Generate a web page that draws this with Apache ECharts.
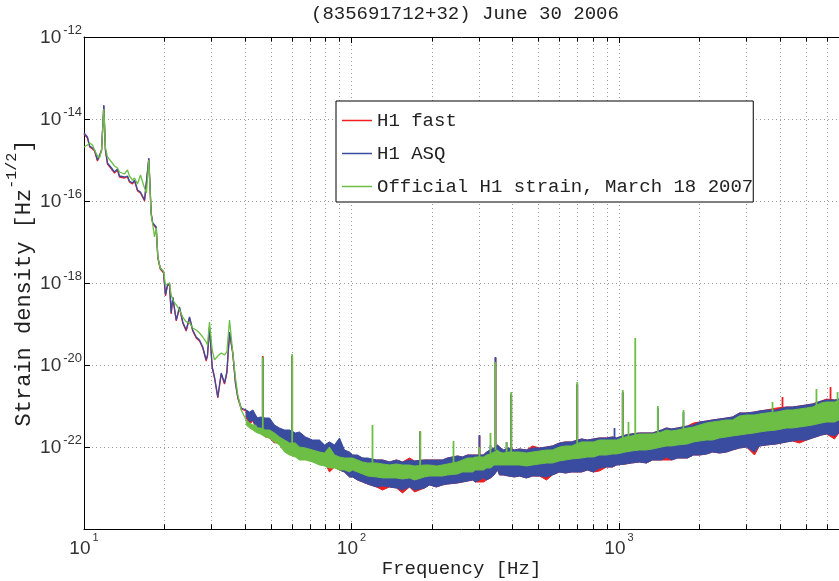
<!DOCTYPE html>
<html><head><meta charset="utf-8">
<script src="https://cdn.jsdelivr.net/npm/echarts@6/dist/echarts.min.js"></script>
<style>html,body{margin:0;padding:0;background:#fff}#c{width:839px;height:581px}</style>
</head><body><div id="c"></div>
<script>
// ---- names ----
const seriesNames = ['H1 fast', 'H1 ASQ', 'Official H1 strain, March 18 2007'];

// ---- low-frequency part (Hz) and strain values ----
const lowF = [10.0,10.3,10.5,10.76,10.95,11.23,11.43,11.63,11.86,12.03,
 12.24,12.67,13.0,13.34,13.57,14.17,14.54,14.79,15.18,15.45,
 15.85,16.26,16.84,17.13,17.47,17.83,18.08,18.35,18.62,18.88,
 19.27,19.83,20.17,20.51,20.87,21.18,21.48,22.12,22.75,23.4,
 24.1,24.8,25.5,26.27,27.03,27.8,28.62,28.95,29.45,30.15,
 30.75,31.64,32.58,33.52,34.2,35.0,36.0,36.85,37.58,38.7,
 40.4];
const redLow = [4.31e-15,3.44e-15,2.08e-15,1.86e-15,1.66e-15,9.45e-16,1.25e-15,1.66e-15,2.08e-14,1.66e-15,
 7.99e-16,6.03e-16,4.82e-16,5.70e-16,3.85e-16,3.64e-16,3.85e-16,2.91e-16,2.60e-16,3.08e-16,
 1.76e-16,1.57e-16,1.0e-16,1.06e-16,1.06e-15,4.82e-17,2.75e-17,2.46e-17,2.20e-17,4.07e-18,
 2.20e-18,1.76e-18,4.82e-19,8.45e-19,9.45e-19,1.76e-19,4.31e-19,1.19e-19,2.46e-19,1.06e-19,
 6.75e-20,1.40e-19,6.75e-20,4.56e-20,3.85e-20,2.60e-20,1.25e-20,1.66e-20,7.99e-20,8.45e-21,
 4.82e-21,1.57e-21,6.03e-21,3.44e-21,6.38e-21,6.03e-20,1.86e-20,3.44e-21,1.57e-21,8.45e-22,
 7.55e-22];
const blueLow = [4.56e-15,3.64e-15,2.20e-15,1.96e-15,1.76e-15,1.0e-15,1.33e-15,1.76e-15,2.20e-14,1.76e-15,
 8.45e-16,6.38e-16,5.10e-16,6.03e-16,4.07e-16,3.85e-16,4.07e-16,3.08e-16,2.75e-16,3.25e-16,
 1.86e-16,1.66e-16,1.06e-16,1.12e-16,1.12e-15,5.10e-17,2.91e-17,2.60e-17,2.32e-17,4.31e-18,
 2.32e-18,1.86e-18,5.10e-19,8.94e-19,1.0e-18,1.86e-19,4.56e-19,1.25e-19,2.60e-19,1.12e-19,
 7.14e-20,1.48e-19,7.14e-20,4.82e-20,4.07e-20,2.75e-20,1.33e-20,1.76e-20,8.45e-20,8.94e-21,
 5.10e-21,1.66e-21,6.38e-21,3.64e-21,6.75e-21,6.38e-20,1.96e-20,3.64e-21,1.66e-21,8.94e-22,
 7.99e-22];
const greenLow = [2.08e-15,2.32e-15,2.60e-15,2.32e-15,1.76e-15,1.25e-15,1.12e-15,1.76e-15,1.76e-14,1.96e-15,
 1.19e-15,8.94e-16,7.14e-16,6.38e-16,5.10e-16,4.56e-16,5.70e-16,4.07e-16,3.25e-16,3.64e-16,
 2.60e-16,4.31e-16,2.08e-16,1.57e-16,1.0e-15,4.56e-17,2.60e-17,1.33e-17,2.20e-17,4.31e-18,
 2.32e-18,1.96e-18,8.94e-19,1.0e-18,1.0e-18,5.10e-19,3.85e-19,2.91e-19,2.20e-19,1.48e-19,
 1.12e-19,1.06e-19,7.99e-20,7.14e-20,6.03e-20,4.82e-20,3.64e-20,3.08e-20,1.12e-19,2.32e-20,
 1.33e-20,1.66e-20,1.96e-20,1.76e-20,2.08e-20,1.25e-19,1.96e-20,4.82e-21,1.86e-21,7.99e-22,
 4.56e-22];

// ---- noise band above 40 Hz: frequencies and upper / lower envelope of each trace ----
const bandF = [40.4,41.6,42.8,43.8,44.6,45.6,47.7,49.4,51.5,53.8,
 56.2,58.7,61.7,63.9,67.3,71.5,75.9,79.3,82.7,86.4,
 90.2,94.1,98.3,100.9,105.3,110,114.8,124,130.6,138.7,
 147.3,155.1,164.8,172,187.5,195.7,207.8,218.9,228.5,249,
 260,271.4,283.4,290.8,311.6,319.7,330.8,341,351.5,357.5,
 370,386.3,406.8,424.6,451,475,504.5,535.8,564,599,
 631,664,724,762,803,845,898,946,979,1058,
 1114,1193,1267,1334,1442,1505,1572,1655,1803,1899,
 2000,2124,2236,2376,2523,2657,2821,2997,3210,3350,
 3559,3880,4229,4453,4729,5022,5289,5715,5967,6391,
 6640];
const redHi = [7.55e-22,6.75e-22,7.55e-22,5.70e-22,4.82e-22,5.10e-22,4.82e-22,4.56e-22,3.25e-22,2.75e-22,
 2.46e-22,2.32e-22,2.08e-22,2.08e-22,1.66e-22,1.40e-22,1.40e-22,1.06e-22,1.25e-22,1.06e-22,
 1.48e-22,7.99e-23,7.14e-23,6.38e-23,6.03e-23,5.39e-23,5.10e-23,4.82e-23,4.82e-23,4.31e-23,
 4.82e-23,4.31e-23,5.39e-23,4.56e-23,4.82e-23,4.82e-23,4.82e-23,4.82e-23,5.39e-23,6.03e-23,
 5.70e-23,6.38e-23,6.38e-23,6.38e-23,6.38e-23,7.55e-23,8.45e-23,9.45e-23,1.12e-22,1.0e-22,
 8.45e-23,9.45e-23,8.45e-23,8.94e-23,8.45e-23,1.06e-22,9.45e-23,1.0e-22,1.06e-22,1.25e-22,
 1.33e-22,1.33e-22,1.57e-22,1.48e-22,1.57e-22,1.66e-22,1.66e-22,1.76e-22,1.66e-22,1.96e-22,
 2.08e-22,2.20e-22,2.20e-22,2.20e-22,2.60e-22,2.91e-22,2.75e-22,2.91e-22,3.25e-22,3.85e-22,
 4.07e-22,4.31e-22,4.56e-22,4.82e-22,5.10e-22,5.39e-22,6.75e-22,6.75e-22,7.14e-22,7.55e-22,
 7.99e-22,8.94e-22,9.45e-22,9.45e-22,1.0e-21,1.06e-21,1.12e-21,1.33e-21,1.48e-21,1.40e-21,
 1.40e-21];
const redLo = [5.10e-22,3.64e-22,4.31e-22,2.91e-22,2.32e-22,2.20e-22,1.76e-22,1.66e-22,1.25e-22,1.33e-22,
 9.45e-23,8.45e-23,7.55e-23,6.38e-23,6.38e-23,4.82e-23,4.31e-23,4.31e-23,2.46e-23,3.25e-23,
 2.75e-23,2.46e-23,1.86e-23,1.86e-23,1.57e-23,1.40e-23,1.25e-23,1.06e-23,8.94e-24,1.06e-23,
 1.0e-23,7.55e-24,1.06e-23,7.99e-24,1.0e-23,1.19e-23,1.06e-23,1.19e-23,1.25e-23,1.33e-23,
 1.40e-23,1.48e-23,1.57e-23,1.40e-23,1.40e-23,1.57e-23,1.76e-23,2.08e-23,2.75e-23,2.08e-23,
 2.08e-23,1.96e-23,1.86e-23,1.96e-23,1.76e-23,1.96e-23,1.96e-23,1.57e-23,2.08e-23,2.46e-23,
 2.32e-23,2.46e-23,2.46e-23,2.75e-23,2.46e-23,2.60e-23,3.25e-23,3.25e-23,3.64e-23,3.85e-23,
 4.07e-23,4.31e-23,4.07e-23,4.82e-23,4.82e-23,4.82e-23,4.82e-23,5.39e-23,5.39e-23,6.38e-23,
 6.38e-23,6.75e-23,7.55e-23,7.14e-23,7.55e-23,8.45e-23,9.45e-23,1.0e-22,6.38e-23,1.06e-22,
 1.12e-22,1.19e-22,1.33e-22,1.40e-22,1.25e-22,1.48e-22,1.66e-22,1.96e-22,2.08e-22,1.57e-22,
 2.20e-22];
const blueHi = [7.99e-22,7.14e-22,7.99e-22,6.03e-22,5.10e-22,5.39e-22,5.10e-22,5.10e-22,3.44e-22,2.91e-22,
 2.60e-22,2.60e-22,2.20e-22,2.32e-22,1.76e-22,1.48e-22,1.48e-22,1.12e-22,1.33e-22,1.12e-22,
 1.66e-22,8.45e-23,7.55e-23,6.38e-23,6.38e-23,5.39e-23,5.39e-23,4.82e-23,4.82e-23,4.31e-23,
 4.82e-23,4.31e-23,4.82e-23,4.56e-23,4.82e-23,4.82e-23,4.82e-23,4.82e-23,5.39e-23,6.03e-23,
 5.70e-23,6.38e-23,6.38e-23,6.38e-23,6.38e-23,7.55e-23,8.45e-23,9.45e-23,1.12e-22,1.0e-22,
 8.45e-23,9.45e-23,8.45e-23,8.94e-23,8.45e-23,9.45e-23,9.45e-23,1.0e-22,1.06e-22,1.25e-22,
 1.33e-22,1.33e-22,1.57e-22,1.48e-22,1.57e-22,1.66e-22,1.66e-22,1.76e-22,1.66e-22,1.96e-22,
 2.08e-22,2.20e-22,2.20e-22,2.20e-22,2.60e-22,2.91e-22,2.75e-22,2.91e-22,3.25e-22,3.44e-22,
 4.07e-22,4.31e-22,4.56e-22,4.82e-22,5.10e-22,5.39e-22,6.75e-22,6.75e-22,7.14e-22,7.55e-22,
 7.99e-22,7.99e-22,9.45e-22,9.45e-22,1.0e-21,1.06e-21,1.12e-21,1.33e-21,1.40e-21,1.40e-21,
 1.48e-21];
const blueLo = [5.70e-22,4.07e-22,4.56e-22,3.25e-22,2.60e-22,2.32e-22,1.96e-22,1.76e-22,1.48e-22,1.48e-22,
 9.45e-23,8.45e-23,7.55e-23,6.38e-23,6.38e-23,4.82e-23,4.31e-23,4.31e-23,3.64e-23,3.25e-23,
 2.75e-23,2.46e-23,1.86e-23,1.86e-23,1.57e-23,1.40e-23,1.25e-23,1.06e-23,1.12e-23,1.06e-23,
 1.0e-23,8.94e-24,1.06e-23,8.94e-24,1.0e-23,1.19e-23,1.06e-23,1.19e-23,1.25e-23,1.33e-23,
 1.40e-23,1.48e-23,1.57e-23,1.40e-23,1.76e-23,1.57e-23,1.76e-23,2.08e-23,2.75e-23,2.08e-23,
 2.08e-23,1.96e-23,1.86e-23,1.96e-23,1.76e-23,1.96e-23,1.96e-23,1.86e-23,2.08e-23,2.46e-23,
 2.32e-23,2.46e-23,2.46e-23,2.75e-23,2.46e-23,3.08e-23,3.25e-23,3.25e-23,3.64e-23,3.85e-23,
 4.07e-23,4.31e-23,4.07e-23,4.82e-23,4.82e-23,5.70e-23,4.82e-23,5.39e-23,5.39e-23,6.38e-23,
 6.38e-23,6.75e-23,7.55e-23,7.14e-23,7.55e-23,8.45e-23,9.45e-23,1.0e-22,7.55e-23,1.06e-22,
 1.12e-22,1.19e-22,1.33e-22,1.40e-22,1.48e-22,1.48e-22,1.66e-22,1.96e-22,2.08e-22,1.86e-22,
 2.20e-22];
const greenHi = [4.56e-22,3.85e-22,3.44e-22,3.44e-22,2.91e-22,2.91e-22,2.60e-22,2.60e-22,2.20e-22,1.76e-22,
 1.48e-22,1.25e-22,1.25e-22,1.0e-22,9.45e-23,8.45e-23,7.55e-23,7.14e-23,1.0e-22,6.38e-23,
 5.70e-23,5.39e-23,5.39e-23,5.39e-23,4.82e-23,4.31e-23,4.07e-23,4.07e-23,3.85e-23,3.64e-23,
 3.85e-23,3.64e-23,3.64e-23,3.44e-23,3.64e-23,3.64e-23,3.44e-23,3.64e-23,3.85e-23,4.31e-23,
 4.82e-23,5.39e-23,5.39e-23,5.70e-23,5.70e-23,6.38e-23,6.75e-23,7.55e-23,8.45e-23,7.55e-23,
 7.14e-23,7.55e-23,7.55e-23,7.55e-23,7.14e-23,7.55e-23,7.99e-23,8.45e-23,8.45e-23,1.0e-22,
 1.06e-22,1.06e-22,1.33e-22,1.33e-22,1.33e-22,1.48e-22,1.48e-22,1.48e-22,1.48e-22,1.76e-22,
 1.86e-22,2.08e-22,2.08e-22,2.08e-22,2.32e-22,2.60e-22,2.46e-22,2.60e-22,2.91e-22,3.08e-22,
 3.44e-22,3.85e-22,4.07e-22,4.31e-22,4.56e-22,4.56e-22,5.70e-22,6.03e-22,6.03e-22,6.38e-22,
 6.75e-22,7.14e-22,7.99e-22,7.99e-22,8.45e-22,8.94e-22,9.45e-22,1.19e-21,1.25e-21,1.25e-21,
 1.33e-21];
const greenLo = [3.44e-22,2.91e-22,2.60e-22,2.32e-22,2.20e-22,2.08e-22,1.76e-22,1.66e-22,1.33e-22,1.12e-22,
 7.55e-23,6.38e-23,5.70e-23,4.82e-23,4.82e-23,4.31e-23,3.64e-23,3.44e-23,3.08e-23,3.08e-23,
 2.75e-23,2.75e-23,2.46e-23,2.75e-23,2.46e-23,2.20e-23,1.96e-23,1.86e-23,1.76e-23,1.76e-23,
 1.76e-23,1.66e-23,1.76e-23,1.57e-23,1.86e-23,1.96e-23,1.96e-23,1.96e-23,2.08e-23,2.20e-23,
 2.46e-23,2.46e-23,2.46e-23,2.75e-23,2.75e-23,3.08e-23,3.08e-23,3.64e-23,3.64e-23,3.64e-23,
 3.64e-23,3.64e-23,3.64e-23,3.64e-23,3.44e-23,3.64e-23,3.85e-23,4.07e-23,4.07e-23,4.56e-23,
 4.82e-23,5.10e-23,5.39e-23,5.70e-23,5.70e-23,6.38e-23,6.38e-23,6.75e-23,6.75e-23,7.55e-23,
 7.99e-23,8.45e-23,8.45e-23,8.94e-23,1.0e-22,1.06e-22,1.06e-22,1.12e-22,1.19e-22,1.33e-22,
 1.40e-22,1.48e-22,1.48e-22,1.66e-22,1.76e-22,1.86e-22,1.96e-22,2.08e-22,2.20e-22,2.32e-22,
 2.46e-22,2.60e-22,2.91e-22,2.91e-22,3.08e-22,3.25e-22,3.44e-22,3.85e-22,4.07e-22,4.07e-22,
 4.56e-22];

// ---- narrow spectral lines: [frequency Hz, strain at band, strain at peak] ----
const redLines = [[46.6,3.44e-22,1.66e-20],[60.0,1.48e-22,1.57e-20],[180.6,3.64e-23,2.46e-22],
 [300.9,4.82e-23,1.85e-22],[345.4,8.45e-23,1.48e-20],[395.4,7.55e-23,1.85e-21],[698,1.12e-22,3.25e-21],
 [1033,1.48e-22,2.08e-21],[4085,8.0e-22,1.66e-21],[6177,1.25e-21,2.90e-21]];
const blueLines = [[46.6,3.44e-22,1.57e-20],[60.0,1.48e-22,1.66e-20],[180.6,3.64e-23,2.32e-22],
 [300.9,4.82e-23,1.96e-22],[330.8,6.38e-23,1.12e-22],[345.4,8.45e-23,1.57e-20],[380,7.55e-23,1.32e-22],
 [395.4,7.55e-23,1.96e-21],[698,1.12e-22,3.44e-21],[962,1.48e-22,2.90e-22],[1033,1.48e-22,2.19e-21],
 [1397,2.19e-22,8.94e-22],[1742,2.60e-22,7.14e-22]];
const greenLines = [[46.6,2.60e-22,1.57e-20],[60.0,1.12e-22,1.85e-20],[119.8,3.64e-23,3.44e-22],
 [180.6,3.25e-23,2.46e-22],[240.6,3.64e-23,1.40e-22],[300.9,4.82e-23,1.0e-22],[330.8,5.39e-23,2.20e-22],
 [345.4,8.45e-23,1.18e-20],[380,6.38e-23,1.32e-22],[395.4,6.38e-23,2.19e-21],[698,1.12e-22,3.85e-21],
 [1033,1.48e-22,2.46e-21],[1085,1.48e-22,4.07e-22],[1150,1.66e-22,4.56e-20],[1397,1.96e-22,1.0e-21],
 [1742,2.60e-22,7.99e-22],[3749,6.03e-22,1.25e-21],[5472,8.94e-22,2.60e-21],[6561,1.06e-21,2.19e-21]];

// ---- axis ranges and minor frequency grid (Hz) ----
const freqMin = 10, freqMax = 6644;
const strainMin = 1e-24, strainMax = 1e-12;
const minorFreq = [20,30,40,50,60,70,80,90,200,300,400,500,600,700,800,900,2000,3000,4000,5000,6000];

const COL = {red:'#f01e1e', blue:'#3a4ca0', green:'#6cbe45'};
const MONO = 'Liberation Mono';
const SANS = 'Liberation Sans';

function lowSeries(name, color, vals, extra) {
  return Object.assign({
    type: 'line', name, data: lowF.map((f, i) => [f, vals[i]]),
    symbol: 'none', lineStyle: {color, width: 1.3}, itemStyle: {color},
    z: 2, silent: true
  }, extra || {});
}
function bandSeries(name, color, hi, lo) {
  return {
    type: 'custom', name, itemStyle: {color}, silent: true, z: 2,
    data: bandF.map((f, i) => [f, hi[i], lo[i]]),
    encode: {x: 0, y: [1, 2]},
    renderItem: function (params, api) {
      if (params.dataIndex !== 0) return null;
      const top = [], bot = [];
      for (let i = 0; i < bandF.length; i++) {
        top.push(api.coord([bandF[i], hi[i]]));
        bot.push(api.coord([bandF[i], lo[i]]));
      }
      return {type: 'polygon', shape: {points: top.concat(bot.reverse())},
        style: {fill: color, stroke: color, lineWidth: 1, lineJoin: 'miter'}};
    }
  };
}
function lineMarks(name, color, rows) {
  return {
    type: 'custom', name, itemStyle: {color}, silent: true, z: 2,
    data: rows, encode: {x: 0, y: [1, 2]},
    renderItem: function (params, api) {
      const a = api.coord([api.value(0), api.value(1)]);
      const b = api.coord([api.value(0), api.value(2)]);
      return {type: 'line', shape: {x1: a[0], y1: a[1], x2: b[0], y2: b[1]},
        style: {stroke: color, lineWidth: 1.8}};
    }
  };
}

const supLabel = v => Math.round(Math.log10(v));
const gridMarkLine = {
  silent: true, symbol: 'none', z: 1, animation: false,
  label: {show: false}, emphasis: {disabled: true},
  lineStyle: {color: '#9a9a9a', type: [1, 3], width: 1},
  data: minorFreq.map(f => ({xAxis: f}))
};
const tickPairs = [];
minorFreq.forEach(f => {
  tickPairs.push([{coord: [f, strainMin]}, {coord: [f, 1.3e-24]}]);
  tickPairs.push([{coord: [f, strainMax]}, {coord: [f, 0.77e-12]}]);
});
const tickMarkLine = {
  silent: true, symbol: 'none', z: 6, animation: false,
  label: {show: false}, emphasis: {disabled: true},
  lineStyle: {color: '#000', type: 'solid', width: 1},
  data: tickPairs
};

const chart = echarts.init(document.getElementById('c'), null, {renderer: 'canvas'});
chart.setOption({
  animation: false,
  backgroundColor: '#fff',
  title: {
    text: '(835691712+32) June 30 2006', left: 311, top: 4, padding: 0,
    textStyle: {fontFamily: MONO, fontSize: 19, fontWeight: 'normal', color: '#222'}
  },
  legend: {
    orient: 'vertical', left: 336, top: 101,
    padding: [10, 0, 6, 6], itemGap: 14, itemWidth: 30, itemHeight: 1.5,
    backgroundColor: '#fff', borderColor: '#000', borderWidth: 1,
    textStyle: {fontFamily: MONO, fontSize: 19, color: '#222', lineHeight: 19},
    data: seriesNames.map(n => ({name: n, icon: 'rect'})),
    selectedMode: false
  },
  grid: {left: 84, top: 37, right: 0, bottom: 52, containLabel: false, outerBoundsMode: 'none'},
  xAxis: [{
    type: 'log', logBase: 10, min: freqMin, max: freqMax,
    name: 'Frequency [Hz]', nameLocation: 'middle', nameGap: 30, nameMoveOverlap: false,
    nameTextStyle: {fontFamily: MONO, fontSize: 19, color: '#222'},
    axisLine: {show: true, onZero: false, lineStyle: {color: '#000', width: 1}},
    axisTick: {show: true, inside: true, length: 6, lineStyle: {color: '#000'}},
    axisLabel: {
      margin: 3, showMaxLabel: false,
      formatter: v => '{b|10}{e|' + supLabel(v) + '}',
      rich: {
        b: {fontFamily: SANS, fontSize: 19, color: '#333', verticalAlign: 'bottom', lineHeight: 26},
        e: {fontFamily: SANS, fontSize: 11, color: '#333', verticalAlign: 'top', lineHeight: 26, padding: [0, 0, 0, 2]}
      }
    },
    splitLine: {show: true, lineStyle: {color: '#9a9a9a', type: [1, 3], width: 1}}
  }, {
    type: 'log', logBase: 10, min: freqMin, max: freqMax, position: 'top',
    axisLine: {show: true, onZero: false, lineStyle: {color: '#000', width: 1}},
    axisTick: {show: true, inside: true, length: 6, lineStyle: {color: '#000'}},
    axisLabel: {show: false}, splitLine: {show: false}
  }],
  yAxis: {
    type: 'log', logBase: 100, min: strainMin, max: strainMax, splitNumber: 6,
    name: '{n|Strain density [Hz}{s|-1/2}{n|]}', nameLocation: 'middle', nameGap: 49,
    nameMoveOverlap: false,
    nameTextStyle: {
      fontFamily: MONO, fontSize: 22, color: '#222',
      rich: {
        n: {fontFamily: MONO, fontSize: 22, color: '#222', verticalAlign: 'bottom', lineHeight: 30},
        s: {fontFamily: MONO, fontSize: 15, color: '#222', verticalAlign: 'top', lineHeight: 30}
      }
    },
    axisLine: {show: true, lineStyle: {color: '#000', width: 1}},
    axisTick: {show: true, inside: true, length: 6, lineStyle: {color: '#000'}},
    axisLabel: {
      margin: 2,
      formatter: v => '{b|10}{e|' + supLabel(v) + '}',
      rich: {
        b: {fontFamily: SANS, fontSize: 19, color: '#333', verticalAlign: 'bottom', lineHeight: 26, padding: [0, 0, 3, 0]},
        e: {fontFamily: SANS, fontSize: 13, color: '#333', verticalAlign: 'top', lineHeight: 26, padding: [0, 0, 0, 2]}
      }
    },
    splitLine: {show: true, lineStyle: {color: '#9a9a9a', type: [1, 3], width: 1}}
  },
  series: [
    lowSeries(seriesNames[0], COL.red, redLow, {markLine: gridMarkLine}),
    bandSeries(seriesNames[0], COL.red, redHi, redLo),
    lineMarks(seriesNames[0], COL.red, redLines),
    lowSeries(seriesNames[1], COL.blue, blueLow, {markLine: tickMarkLine}),
    bandSeries(seriesNames[1], COL.blue, blueHi, blueLo),
    lineMarks(seriesNames[1], COL.blue, blueLines),
    lowSeries(seriesNames[2], COL.green, greenLow),
    bandSeries(seriesNames[2], COL.green, greenHi, greenLo),
    lineMarks(seriesNames[2], COL.green, greenLines)
  ]
});
</script>
</body></html>
